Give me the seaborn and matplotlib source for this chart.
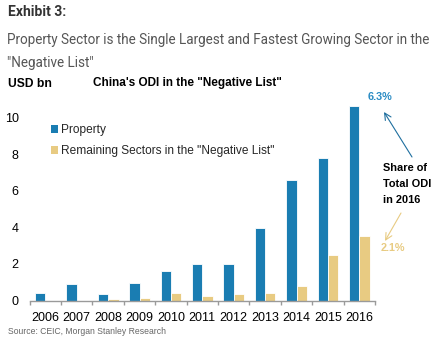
import matplotlib
matplotlib.use("Agg")
import matplotlib.pyplot as plt
import seaborn as sns
import pandas as pd
from matplotlib.patches import Patch

# ODI into "negative list" sectors, USD bn
years = ["2006", "2007", "2008", "2009", "2010", "2011",
         "2012", "2013", "2014", "2015", "2016"]
property_odi = [0.40, 0.92, 0.36, 0.96, 1.62, 2.00, 2.02, 3.96, 6.60, 7.77, 10.63]
remaining_odi = [0.0, 0.0, 0.08, 0.12, 0.43, 0.25, 0.33, 0.40, 0.77, 2.48, 3.53]
series_names = ["Property", 'Remaining Sectors in the "Negative List"']
share_labels = ["6.3%", "2.1%"]
y_ticks = [0, 2, 4, 6, 8, 10]

BLUE = "#1a7db2"
TAN = "#e8cb82"
W, H = 439, 339

df = pd.DataFrame({
    "year": years * 2,
    "value": property_odi + remaining_odi,
    "series": [series_names[0]] * len(years) + [series_names[1]] * len(years),
})

sns.set_theme(style="white")
plt.rcParams["font.family"] = ["Liberation Sans", "DejaVu Sans"]

fig = plt.figure(figsize=(W / 100, H / 100), dpi=100)


def fp(x, y):
    """Pixel position (from top-left) to figure fraction."""
    return (x / W, 1 - y / H)


ax_left, ax_right = 29.7, 375.0
ax_bottom_px, ax_top_px = 300.5, 99.4
ax = fig.add_axes([ax_left / W, 1 - ax_bottom_px / H,
                   (ax_right - ax_left) / W, (ax_bottom_px - ax_top_px) / H])

sns.barplot(data=df, x="year", y="value", hue="series",
            palette=[BLUE, TAN], width=0.66, ax=ax, legend=False,
            edgecolor="white", linewidth=0.6, saturation=1)

ax.set_xlim(-0.5, len(years) - 0.5)
ax.set_ylim(0, 11)
ax.set_yticks(y_ticks)
ax.set_yticklabels([str(t) for t in y_ticks])
ax.set_xlabel("")
ax.set_ylabel("")

for s in ["left", "right", "top"]:
    ax.spines[s].set_visible(False)
ax.spines["bottom"].set_color("#9a9a9a")
ax.spines["bottom"].set_linewidth(1.0)

ax.tick_params(axis="y", length=0, pad=8, labelsize=9, labelcolor="black")
ax.tick_params(axis="x", which="major", length=0, pad=8, labelsize=9,
               labelcolor="black")
ax.set_xticks([i - 0.5 for i in range(len(years) + 1)], minor=True)
ax.tick_params(axis="x", which="minor", length=3, width=1.0, color="#9a9a9a",
               bottom=True)

# Legend with small square keys
handles = [Patch(facecolor=BLUE, edgecolor="none"),
           Patch(facecolor=TAN, edgecolor="none")]
fig.legend(handles, series_names, loc="upper left",
           bbox_to_anchor=fp(51, 124), frameon=False, fontsize=8.6,
           handlelength=0.6, handleheight=0.6, handletextpad=0.25,
           labelspacing=0.75, borderaxespad=0, borderpad=0)

# Headings
fig.text(*fp(8, 12), "Exhibit 3:", fontsize=10, fontweight="bold",
         color="#333333", family=["Roboto", "DejaVu Sans"], va="center")
fig.text(*fp(7, 40),
         "Property Sector is the Single Largest and Fastest Growing Sector in the",
         fontsize=9.75, color="#555555", family=["Roboto", "DejaVu Sans"],
         va="center")
fig.text(*fp(7, 63), '"Negative List"', fontsize=9.75, color="#555555",
         family=["Roboto", "DejaVu Sans"], va="center")
fig.text(*fp(8, 84), "USD bn", fontsize=8.7, fontweight="bold", color="black",
         va="center")
fig.text(*fp(93, 83), 'China\'s ODI in the "Negative List"', fontsize=8.5,
         fontweight="bold", color="black", va="center")

# Share annotations
fig.text(*fp(380, 97), share_labels[0], fontsize=7.8, fontweight="bold",
         color="#2b8cc4", ha="center", va="center")
fig.text(*fp(393, 248), share_labels[1], fontsize=7.8, fontweight="bold",
         color=TAN, ha="center", va="center")
fig.text(*fp(383, 184), "Share of\nTotal ODI\nin 2016", fontsize=7.9,
         fontweight="bold", color="black", ha="left", va="center",
         linespacing=1.8)
ax.annotate("", xy=fp(384, 112), xytext=fp(412, 157),
            xycoords="figure fraction", textcoords="figure fraction",
            arrowprops=dict(arrowstyle="->", color="#1f6f9f", lw=0.8,
                            shrinkA=0, shrinkB=0))
ax.annotate("", xy=fp(385, 241), xytext=fp(401, 213),
            xycoords="figure fraction", textcoords="figure fraction",
            arrowprops=dict(arrowstyle="->", color=TAN, lw=0.8,
                            shrinkA=0, shrinkB=0))

fig.text(*fp(8, 331), "Source: CEIC, Morgan Stanley Research", fontsize=6.2,
         color="#666666", va="center")

fig.savefig("out.png", dpi=100)
